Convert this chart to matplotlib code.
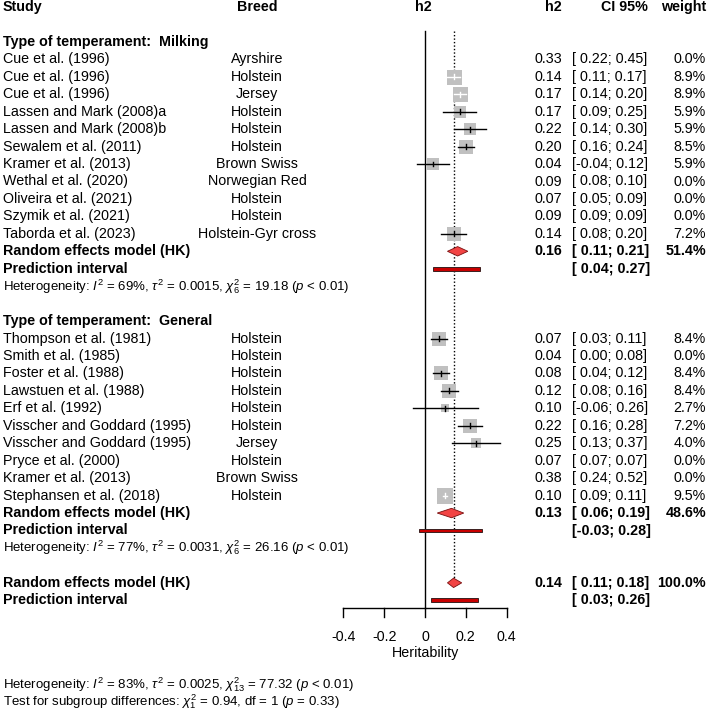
import numpy as np
import matplotlib.pyplot as plt
import matplotlib.transforms as mtransforms
from matplotlib.patches import Polygon, Rectangle

plt.rcParams['font.family'] = ['Liberation Sans', 'DejaVu Sans']
plt.rcParams['mathtext.fontset'] = 'custom'
plt.rcParams['mathtext.rm'] = 'Liberation Sans'
plt.rcParams['mathtext.it'] = 'Liberation Sans:italic'
plt.rcParams['mathtext.bf'] = 'Liberation Sans:bold'

# ---- datos: temperamento en ordeño ----
milk_study = ['Cue et al. (1996)', 'Cue et al. (1996)', 'Cue et al. (1996)',
              'Lassen and Mark (2008)a', 'Lassen and Mark (2008)b',
              'Sewalem et al. (2011)', 'Kramer et al. (2013)', 'Wethal et al. (2020)',
              'Oliveira et al. (2021)', 'Szymik et al. (2021)', 'Taborda et al. (2023)']
milk_breed = ['Ayrshire', 'Holstein', 'Jersey', 'Holstein', 'Holstein', 'Holstein',
              'Brown Swiss', 'Norwegian Red', 'Holstein', 'Holstein', 'Holstein-Gyr cross']
milk_h2 = [0.33, 0.14, 0.17, 0.17, 0.22, 0.20, 0.04, 0.09, 0.07, 0.09, 0.14]
milk_lo = [0.22, 0.11, 0.14, 0.09, 0.14, 0.16, -0.04, 0.08, 0.05, 0.09, 0.08]
milk_hi = [0.45, 0.17, 0.20, 0.25, 0.30, 0.24, 0.12, 0.10, 0.09, 0.09, 0.20]
milk_w = [0.0, 8.9, 8.9, 5.9, 5.9, 8.5, 5.9, 0.0, 0.0, 0.0, 7.2]
milk_re = [0.16, 0.11, 0.21, 51.4]
milk_pi = [0.04, 0.27]
milk_het = r'Heterogeneity: $I^2$ = 69%, $\tau^2$ = 0.0015, $\chi^2_6$ = 19.18 ($p$ < 0.01)'

# ---- datos: temperamento general ----
gen_study = ['Thompson et al. (1981)', 'Smith et al. (1985)', 'Foster et al. (1988)',
             'Lawstuen et al. (1988)', 'Erf et al. (1992)', 'Visscher and Goddard (1995)',
             'Visscher and Goddard (1995)', 'Pryce et al. (2000)', 'Kramer et al. (2013)',
             'Stephansen et al. (2018)']
gen_breed = ['Holstein', 'Holstein', 'Holstein', 'Holstein', 'Holstein', 'Holstein',
             'Jersey', 'Holstein', 'Brown Swiss', 'Holstein']
gen_h2 = [0.07, 0.04, 0.08, 0.12, 0.10, 0.22, 0.25, 0.07, 0.38, 0.10]
gen_lo = [0.03, 0.00, 0.04, 0.08, -0.06, 0.16, 0.13, 0.07, 0.24, 0.09]
gen_hi = [0.11, 0.08, 0.12, 0.16, 0.26, 0.28, 0.37, 0.07, 0.52, 0.11]
gen_w = [8.4, 0.0, 8.4, 8.4, 2.7, 7.2, 4.0, 0.0, 0.0, 9.5]
gen_re = [0.13, 0.06, 0.19, 48.6]
gen_pi = [-0.03, 0.28]
gen_het = r'Heterogeneity: $I^2$ = 77%, $\tau^2$ = 0.0031, $\chi^2_6$ = 26.16 ($p$ < 0.01)'

# ---- global ----
all_re = [0.14, 0.11, 0.18, 100.0]
all_pi = [0.03, 0.26]
all_het = r'Heterogeneity: $I^2$ = 83%, $\tau^2$ = 0.0025, $\chi^2_{13}$ = 77.32 ($p$ < 0.01)'
test_sub = r'Test for subgroup differences: $\chi^2_1$ = 0.94, df = 1 ($p$ = 0.33)'

ticks = [-0.4, -0.2, 0, 0.2, 0.4]
tick_labels = ['-0.4', '-0.2', '0', '0.2', '0.4']

# ---- figura ----
W, H = 709, 716
ROW = 17.45       # alto de fila en px
X0, SCALE = 425, 204   # px del cero y px por unidad
FS = 10.3
FS_SMALL = 9.5

fig = plt.figure(figsize=(W / 100, H / 100), dpi=100)
ax = fig.add_axes([0, 0, 1, 1])
ax.set_xlim(-X0 / SCALE, (W - X0) / SCALE)
ax.set_ylim((H - 7) / ROW, -7 / ROW)
ax.axis('off')
tr = mtransforms.blended_transform_factory(ax.transAxes, ax.transData)

def col(px):
    return px / W

def ci_text(lo, hi):
    return '[' + f'{lo:5.2f}' + '; ' + f'{hi:.2f}' + ']'

# encabezados
ax.text(col(3), 0, 'Study', transform=tr, ha='left', va='center', fontsize=FS, weight='bold')
ax.text(col(257), 0, 'Breed', transform=tr, ha='center', va='center', fontsize=FS, weight='bold')
ax.text(col(423), 0, 'h2', transform=tr, ha='center', va='center', fontsize=FS, weight='bold')
ax.text(col(562), 0, 'h2', transform=tr, ha='right', va='center', fontsize=FS, weight='bold')
ax.text(col(648), 0, 'CI 95%', transform=tr, ha='right', va='center', fontsize=FS, weight='bold')
ax.text(col(706), 0, 'weight', transform=tr, ha='right', va='center', fontsize=FS, weight='bold')

def summary(y, re, pi):
    est, lo, hi, w = re
    ax.add_patch(Polygon([(lo, y), (est, y - 0.27), (hi, y), (est, y + 0.27)],
                         closed=True, facecolor='#f24444', edgecolor='#7a1010', lw=0.6, zorder=4))
    ax.text(col(3), y, 'Random effects model (HK)', transform=tr, ha='left', va='center',
            fontsize=FS, weight='bold')
    ax.text(col(562), y, f'{est:.2f}', transform=tr, ha='right', va='center', fontsize=FS, weight='bold')
    ax.text(col(572), y, ci_text(lo, hi), transform=tr, ha='left', va='center', fontsize=FS, weight='bold')
    ax.text(col(706), y, f'{w:.1f}%', transform=tr, ha='right', va='center', fontsize=FS, weight='bold')
    y2 = y + 1
    ax.add_patch(Rectangle((pi[0], y2 - 0.11), pi[1] - pi[0], 0.22,
                           facecolor='#c80000', edgecolor='#3a2020', lw=0.7, zorder=4))
    ax.text(col(3), y2, 'Prediction interval', transform=tr, ha='left', va='center',
            fontsize=FS, weight='bold')
    ax.text(col(572), y2, ci_text(pi[0], pi[1]), transform=tr, ha='left', va='center',
            fontsize=FS, weight='bold')

def group(start, title, study, breed, h2, lo, hi, w, re, pi, het):
    ax.text(col(3), start, 'Type of temperament:  ' + title, transform=tr, ha='left',
            va='center', fontsize=FS, weight='bold')
    for i in range(len(study)):
        y = start + 1 + i
        ax.text(col(3), y, study[i], transform=tr, ha='left', va='center', fontsize=FS)
        ax.text(col(257), y, breed[i], transform=tr, ha='center', va='center', fontsize=FS)
        ax.text(col(562), y, f'{h2[i]:.2f}', transform=tr, ha='right', va='center', fontsize=FS)
        ax.text(col(572), y, ci_text(lo[i], hi[i]), transform=tr, ha='left', va='center', fontsize=FS)
        ax.text(col(706), y, f'{w[i]:.1f}%', transform=tr, ha='right', va='center', fontsize=FS)
        if w[i] > 0:
            side = 15 * np.sqrt(w[i] / 8.9)          # px
            ax.plot(h2[i], y, marker='s', ms=side * 0.72, color='#c0c0c0', mew=0, zorder=2)
            inside = (hi[i] - lo[i]) / 2 < side / 2 / SCALE
            c = 'white' if inside else 'black'
            ax.plot([lo[i], hi[i]], [y, y], color=c, lw=1, zorder=3)
            ax.plot([h2[i], h2[i]], [y - 0.14, y + 0.14], color=c, lw=1, zorder=3)
    end = start + 1 + len(study)
    summary(end, re, pi)
    ax.text(col(3), end + 2, het, transform=tr, ha='left', va='center', fontsize=FS_SMALL)
    return end + 4

r = group(2, 'Milking', milk_study, milk_breed, milk_h2, milk_lo, milk_hi, milk_w,
          milk_re, milk_pi, milk_het)
r = group(r, 'General', gen_study, gen_breed, gen_h2, gen_lo, gen_hi, gen_w,
          gen_re, gen_pi, gen_het)
summary(r, all_re, all_pi)

# lineas de referencia
y_axis = (608 - 7) / ROW
ax.plot([0, 0], [1.35, y_axis], color='black', lw=1, zorder=1)
ax.plot([all_re[0], all_re[0]], [1.35, r], color='black', lw=1, ls=(0, (1, 1.5)), zorder=1)

# eje x
ax.plot([ticks[0], ticks[-1]], [y_axis, y_axis], color='black', lw=1)
for t, lab in zip(ticks, tick_labels):
    ax.plot([t, t], [y_axis, y_axis + 0.52], color='black', lw=1)
    ax.text(t, (637 - 7) / ROW, lab, ha='center', va='center', fontsize=FS)
ax.text(0, (653 - 7) / ROW, 'Heritability', ha='center', va='center', fontsize=FS)

ax.text(col(3), (685 - 7) / ROW, all_het, transform=tr, ha='left', va='center', fontsize=FS_SMALL)
ax.text(col(3), (702 - 7) / ROW, test_sub, transform=tr, ha='left', va='center', fontsize=FS_SMALL)

fig.savefig('out.png', dpi=100)
